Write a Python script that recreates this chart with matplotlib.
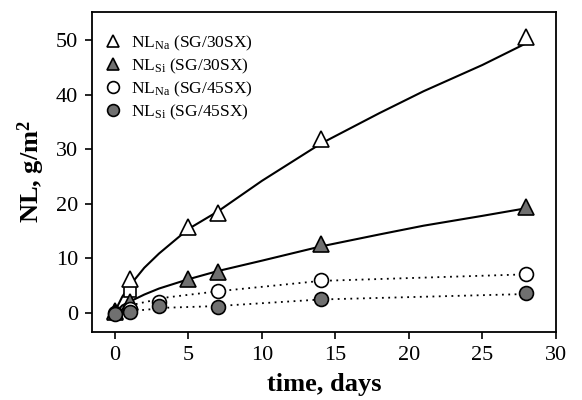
import matplotlib
matplotlib.use("Agg")
import matplotlib.pyplot as plt

plt.rcParams['font.family'] = ['Liberation Serif', 'DejaVu Serif']
plt.rcParams['mathtext.fontset'] = 'custom'
plt.rcParams['mathtext.rm'] = 'Liberation Serif'
plt.rcParams['mathtext.it'] = 'Liberation Serif:italic'
plt.rcParams['mathtext.bf'] = 'Liberation Serif:bold'

# measured points
days_30 = [0, 1, 5, 7, 14, 28]
na_30 = [0.4, 6.2, 15.8, 18.4, 31.8, 50.6]
si_30 = [0.2, 2.0, 6.3, 7.5, 12.6, 19.4]

days_45 = [0, 1, 3, 7, 14, 28]
na_45 = [0.0, 0.8, 2.0, 4.0, 6.1, 7.2]
si_45 = [-0.1, 0.2, 1.3, 1.2, 2.6, 3.6]

# stray open square near day 1
sq_x = [1]
sq_y = [4.1]

# fitted curves
fit30_x = [0, 0.5, 1, 2, 3, 5, 7, 10, 14, 18, 21, 25, 28]
fit_na30 = [0.3, 3.0, 5.0, 8.3, 10.9, 15.4, 18.6, 24.2, 31.0, 36.6, 40.6, 45.4, 49.4]
fit_si30 = [0.0, 1.4, 2.1, 3.4, 4.5, 6.2, 7.7, 9.6, 12.2, 14.4, 16.0, 17.8, 19.2]

fit45_x = [1, 2, 3.6, 7, 14, 28]
fit_na45 = [1.4, 2.0, 2.9, 4.0, 5.9, 7.1]
fit_si45 = [0.4, 0.6, 1.0, 1.3, 2.5, 3.5]

grey = '#707070'
fig, ax = plt.subplots(figsize=(5.82, 4.0), dpi=100)
fig.subplots_adjust(left=0.158, right=0.955, bottom=0.17, top=0.97)

ax.plot(fit30_x, fit_na30, color='black', lw=1.5, zorder=1)
ax.plot(fit30_x, fit_si30, color='black', lw=1.5, zorder=1)
ax.plot(fit45_x, fit_na45, color='black', lw=1.3, ls=(0, (1, 2.5)), zorder=1)
ax.plot(fit45_x, fit_si45, color='black', lw=1.3, ls=(0, (1, 2.5)), zorder=1)

ax.plot(sq_x, sq_y, 's', ms=9, mfc='white', mec='black', mew=1.2, zorder=2)
ax.plot(days_30, na_30, '^', ms=11, mfc='white', mec='black', mew=1.2,
        ls='none', label=r'NL$_{\mathrm{Na}}$ (SG/30SX)', zorder=3)
ax.plot(days_30, si_30, '^', ms=11, mfc=grey, mec='black', mew=1.2,
        ls='none', label=r'NL$_{\mathrm{Si}}$ (SG/30SX)', zorder=3)
ax.plot(days_45, na_45, 'o', ms=10, mfc='white', mec='black', mew=1.2,
        ls='none', label=r'NL$_{\mathrm{Na}}$ (SG/45SX)', zorder=3)
ax.plot(days_45, si_45, 'o', ms=10, mfc=grey, mec='black', mew=1.2,
        ls='none', label=r'NL$_{\mathrm{Si}}$ (SG/45SX)', zorder=4)

ax.set_xlim(-1.56, 30)
ax.set_ylim(-3.45, 55.1)
ax.set_xticks([0, 5, 10, 15, 20, 25, 30])
ax.set_yticks([0, 10, 20, 30, 40, 50])
ax.tick_params(labelsize=16, direction='out', length=5, width=1.2, pad=5)
for s in ax.spines.values():
    s.set_linewidth(1.3)

ax.set_xlabel('time, days', fontsize=19, fontweight='bold', labelpad=6)
ax.set_ylabel(r'NL, g/m$^{\mathbf{2}}$', fontsize=19, fontweight='bold', labelpad=6)

leg = ax.legend(loc='upper left', bbox_to_anchor=(0.012, 0.955), borderaxespad=0,
                frameon=False, fontsize=12.5, handletextpad=0.55,
                handlelength=1.0, labelspacing=0.22, markerscale=0.85)

fig.savefig('out.png', dpi=100)
